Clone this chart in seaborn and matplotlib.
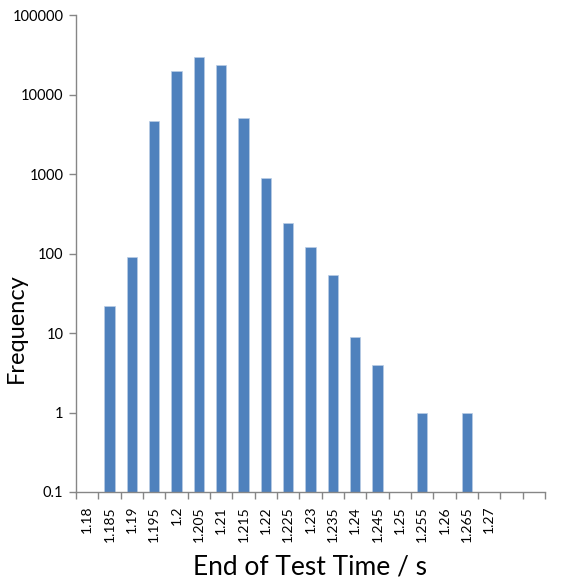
import numpy as np
import pandas as pd
import matplotlib
matplotlib.use("Agg")
import matplotlib.pyplot as plt
import seaborn as sns
from matplotlib.ticker import FixedLocator, NullFormatter, NullLocator

# Histogram of end-of-test times (bin labels in seconds)
bins = ["1.18", "1.185", "1.19", "1.195", "1.2", "1.205", "1.21", "1.215",
        "1.22", "1.225", "1.23", "1.235", "1.24", "1.245", "1.25", "1.255",
        "1.26", "1.265", "1.27"]
counts = [0, 22, 90, 4600, 20000, 30000, 23500, 5100,
          900, 240, 120, 54, 9, 4, 0, 1,
          0, 1, 0]
extra_slots = 2  # empty bins shown after the last label

sns.set_theme(style="white")
plt.rcParams["font.family"] = ["Lato", "DejaVu Sans"]
plt.rcParams["text.color"] = "black"
plt.rcParams["axes.labelcolor"] = "black"
plt.rcParams["xtick.labelcolor"] = "black"
plt.rcParams["ytick.labelcolor"] = "black"

df = pd.DataFrame({"bin": bins, "count": counts})

fig = plt.figure(figsize=(5.65, 5.81), dpi=100)
ax = fig.add_axes([0.1345, 0.1532, 0.8301, 0.8208])

sns.barplot(data=df, x="bin", y="count", order=bins, color="#4F81BD",
            saturation=1, width=0.45, edgecolor="#B9CDE5", linewidth=0.5,
            ax=ax, log_scale=(False, True))

ax.set_yscale("log")
ax.set_ylim(0.1, 100000)
ax.yaxis.set_major_locator(FixedLocator([0.1, 1, 10, 100, 1000, 10000, 100000]))
ax.set_yticklabels(["0.1", "1", "10", "100", "1000", "10000", "100000"])
ax.yaxis.set_minor_locator(NullLocator())

n = len(bins) + extra_slots
ax.set_xlim(-0.5, n - 0.5)
ax.set_xticks(range(len(bins)))
ax.set_xticklabels(bins, rotation=90)
ax.xaxis.set_minor_locator(FixedLocator(np.arange(-0.5, n, 1.0)))
ax.xaxis.set_minor_formatter(NullFormatter())

spine_color = "#868686"
for side in ("top", "right"):
    ax.spines[side].set_visible(False)
for side in ("left", "bottom"):
    ax.spines[side].set_color(spine_color)
    ax.spines[side].set_linewidth(1.0)

ax.tick_params(axis="y", which="major", direction="out", length=5, width=1,
               color=spine_color, labelsize=10.5, pad=4, left=True)
ax.tick_params(axis="x", which="major", length=0, labelsize=10, pad=10)
ax.tick_params(axis="x", which="minor", direction="out", length=5, width=1,
               color=spine_color, bottom=True)

ax.set_xlabel("End of Test Time / s", fontsize=19, labelpad=9)
ax.set_ylabel("Frequency", fontsize=17)
ax.yaxis.set_label_coords(-0.104, 0.344)
ax.grid(False)

fig.savefig("out.png", dpi=100)
